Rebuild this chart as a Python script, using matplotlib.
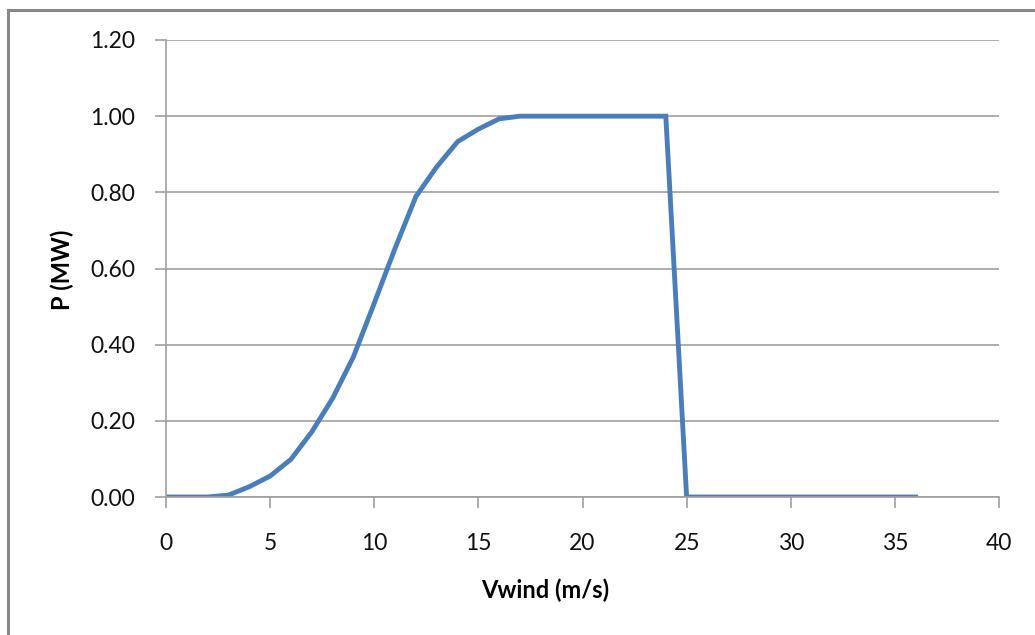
import matplotlib.pyplot as plt
from matplotlib.lines import Line2D
import numpy as np

plt.rcParams['font.family'] = ['Lato', 'DejaVu Sans']

# wind speed (m/s) and power (MW)
vwind = list(range(0, 37))
power = [0.0, 0.0, 0.0, 0.005, 0.027, 0.055, 0.099, 0.171, 0.259, 0.368,
         0.509, 0.653, 0.789, 0.867, 0.933, 0.966, 0.993, 1.0, 1.0, 1.0,
         1.0, 1.0, 1.0, 1.0, 1.0, 0.0, 0.0, 0.0, 0.0, 0.0,
         0.0, 0.0, 0.0, 0.0, 0.0, 0.0, 0.0]

xticks = [0, 5, 10, 15, 20, 25, 30, 35, 40]
yticks = [0.0, 0.2, 0.4, 0.6, 0.8, 1.0, 1.2]

grey = '#a0a0a0'

fig = plt.figure(figsize=(10.35, 6.35), dpi=100)
ax = fig.add_axes([166/1035, 1-497/635, (999-166)/1035, (497-40)/635])

ax.plot(vwind, power, color='#4a7ebb', lw=3.5, solid_joinstyle='miter')

ax.set_xlim(0, 40)
ax.set_ylim(0, 1.2)
ax.set_xticks(xticks)
ax.set_yticks(yticks)
ax.set_yticklabels(['%.2f' % v for v in yticks])
ax.grid(axis='y', color=grey, lw=1.2)
ax.set_axisbelow(True)
for s in ['top', 'right']:
    ax.spines[s].set_visible(False)
for s in ['left', 'bottom']:
    ax.spines[s].set_color(grey)
    ax.spines[s].set_linewidth(1.2)
ax.tick_params(axis='both', color=grey, width=1.2, length=8, labelsize=16.5,
               labelcolor='#111111')
ax.tick_params(axis='y', pad=14)
ax.tick_params(axis='x', pad=18)

fig.text(545/1035, 1-590/635, 'Vwind (m/s)', ha='center', va='center',
         fontsize=17, fontweight='bold')
fig.text(62/1035, 1-270/635, 'P (MW)', ha='center', va='center',
         rotation=90, fontsize=17, fontweight='bold')

# outer chart frame
fig.add_artist(Line2D([8/1035, 1.0], [1-10/635, 1-10/635], color='#888888', lw=2.2, transform=fig.transFigure))
fig.add_artist(Line2D([8/1035, 8/1035], [1-10/635, 0.0], color='#888888', lw=2.2, transform=fig.transFigure))

plt.savefig('out.png', dpi=100)
